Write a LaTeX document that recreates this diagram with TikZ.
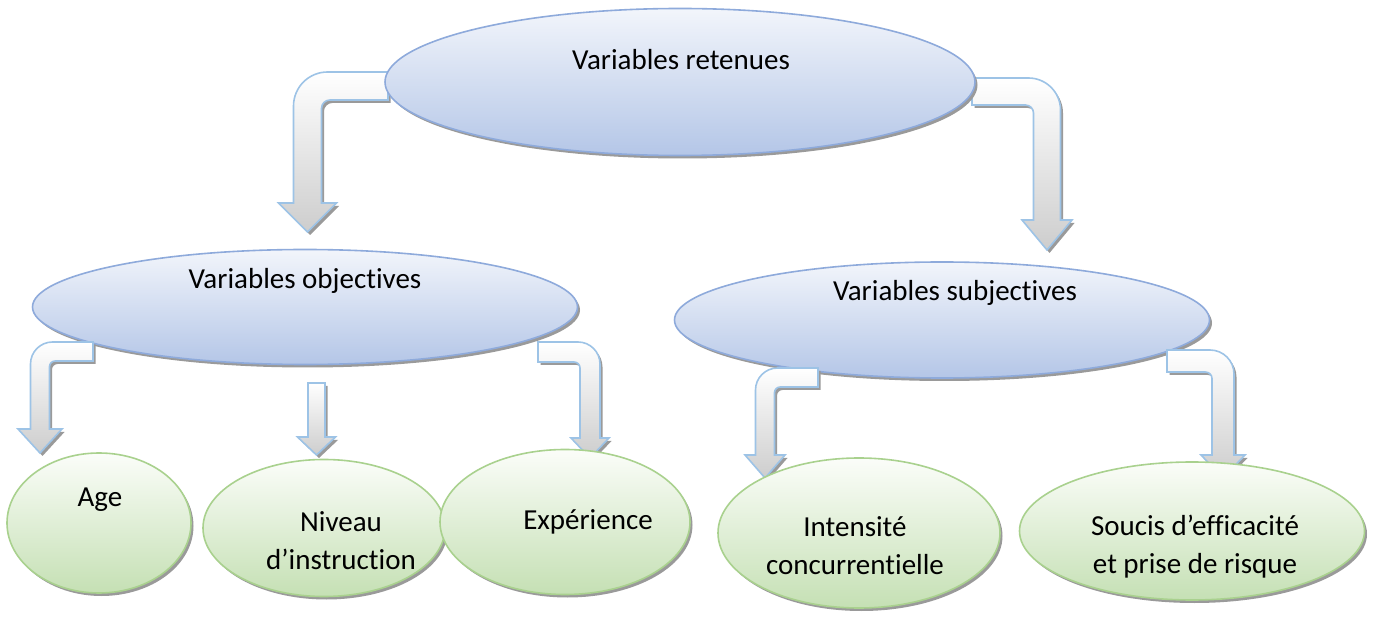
\documentclass[tikz,border=0pt]{standalone}
\usepackage{fontspec}
\setmainfont{Carlito}[Ligatures=NoCommon]
\usetikzlibrary{shapes.geometric,shadows}

\definecolor{bluetop}{HTML}{F2F5FB}
\definecolor{bluebot}{HTML}{B4C6E7}
\definecolor{blueedge}{HTML}{8EAADB}
\definecolor{greentop}{HTML}{FBFDF9}
\definecolor{greenbot}{HTML}{C5E0B4}
\definecolor{greenedge}{HTML}{A9D18E}
\definecolor{arrowedge}{HTML}{9DC3E6}
\definecolor{arrowbot}{HTML}{CDCDCD}
\definecolor{shadegray}{HTML}{9A9A9A}

\tikzset{
  softshadow/.style={drop shadow={shadow xshift=2.5pt, shadow yshift=-3pt, fill=shadegray, opacity=1}},
  bubble/.style={ellipse, draw=blueedge, line width=1.6pt, top color=bluetop, bottom color=bluebot, inner sep=0pt, softshadow},
  leaf/.style={ellipse, draw=greenedge, line width=1.6pt, top color=greentop, bottom color=greenbot, inner sep=0pt, softshadow},
  caption/.style={font=\fontsize{29}{38}\selectfont, align=center, inner sep=0pt},
  blockarrow/.style={draw=arrowedge, line width=1.6pt, top color=white, bottom color=arrowbot, line join=miter, softshadow},
}

% bent block arrow: #1 direction (+1 right, -1 left), #2 tail x, #3 band top y,
% #4 band width, #5 shaft centre x, #6 head base y, #7 tip y, #8 head half width, #9 outer radius
\newcommand\bentarrow[9]{%
  \pgfmathsetmacro\bxo{#5+(#1)*(#4)/2}%
  \pgfmathsetmacro\bxi{#5-(#1)*(#4)/2}%
  \pgfmathsetmacro\bax{\bxo-(#1)*(#9)}%
  \pgfmathsetmacro\bacx{\bxo-(#1)*0.448*(#9)}%
  \pgfmathsetmacro\bay{#3+#9}%
  \pgfmathsetmacro\bacy{#3+0.448*(#9)}%
  \pgfmathsetmacro\bhl{#5+(#1)*(#8)}%
  \pgfmathsetmacro\bhr{#5-(#1)*(#8)}%
  \pgfmathsetmacro\byb{#3+#4}%
  \pgfmathsetmacro\brr{0.3*(#4)}%
  \pgfmathsetmacro\bby{\byb+\brr}%
  \pgfmathsetmacro\bbcy{\byb+0.448*\brr}%
  \pgfmathsetmacro\bbx{\bxi-(#1)*\brr}%
  \pgfmathsetmacro\bbcx{\bxi-(#1)*0.448*\brr}%
  \draw[blockarrow] (#2,#3) -- (\bax,#3) .. controls (\bacx,#3) and (\bxo,\bacy) .. (\bxo,\bay)
    -- (\bxo,#6) -- (\bhl,#6) -- (#5,#7) -- (\bhr,#6) -- (\bxi,#6)
    -- (\bxi,\bby) .. controls (\bxi,\bbcy) and (\bbcx,\byb) .. (\bbx,\byb) -- (#2,\byb) -- cycle;
}
% straight block arrow: #1 centre x, #2 top y, #3 width, #4 head base y, #5 tip y, #6 head half width
\newcommand\downarrowblock[6]{%
  \pgfmathsetmacro\sxl{#1-(#3)/2}%
  \pgfmathsetmacro\sxr{#1+(#3)/2}%
  \pgfmathsetmacro\shl{#1-(#6)}%
  \pgfmathsetmacro\shr{#1+(#6)}%
  \draw[blockarrow] (\sxl,#2) -- (\sxr,#2) -- (\sxr,#4) -- (\shr,#4) -- (#1,#5) -- (\shl,#4) -- (\sxl,#4) -- cycle;
}

\begin{document}
\begin{tikzpicture}[x=1pt,y=-1pt]
\useasboundingbox (0,0) rectangle (1374,617);

% arrows from the root
\bentarrow{-1}{388}{72}{28}{307.5}{203}{232}{29}{34}
\bentarrow{1}{972}{78}{27}{1047}{220}{250}{25}{32}

% root and the two branches
\node[bubble, minimum width=590pt, minimum height=147pt] (root) at (680,82) {};
\node[bubble, minimum width=545pt, minimum height=115pt] (obj) at (305,307) {};
\node[bubble, minimum width=535pt, minimum height=116pt] (subj) at (942,320) {};

% arrows to the leaves
\bentarrow{-1}{93}{342}{19}{40}{429}{453}{22}{22}
\downarrowblock{316.5}{383}{17}{437}{455}{19}
\bentarrow{1}{538}{342}{20}{590}{438}{458}{19}{22}
\bentarrow{-1}{818}{368}{19}{765}{455}{478}{20}{22}
\bentarrow{1}{1167}{350}{22}{1223}{455}{478}{22}{24}

% leaves
\node[leaf, minimum width=184pt, minimum height=140pt] (age) at (99,523) {};
\node[leaf, minimum width=242pt, minimum height=137pt] (niv) at (324,528) {};
\node[leaf, minimum width=250pt, minimum height=145pt] (exp) at (565,522) {};
\node[leaf, minimum width=282pt, minimum height=150pt] (int) at (859,533) {};
\node[leaf, minimum width=345pt, minimum height=138pt] (sou) at (1192,531) {};

% texts
\node[caption] (troot) at (681,60) {Variables retenues};
\node[caption] (tobj) at (305,281) {Variables objectives};
\node[caption] (tsubj) at (955,293) {Variables subjectives};
\node[caption] (tage) at (100,500) {Age};
\node[caption] (tniv) at (341,541) {Niveau\\d’instruction};
\node[caption] (texp) at (588,522) {Expérience};
\node[caption] (tint) at (855,546) {Intensité\\concurrentielle};
\node[caption] (tsou) at (1195,547) {Soucis d’efficacité\\et prise de risque};
\end{tikzpicture}
\end{document}
